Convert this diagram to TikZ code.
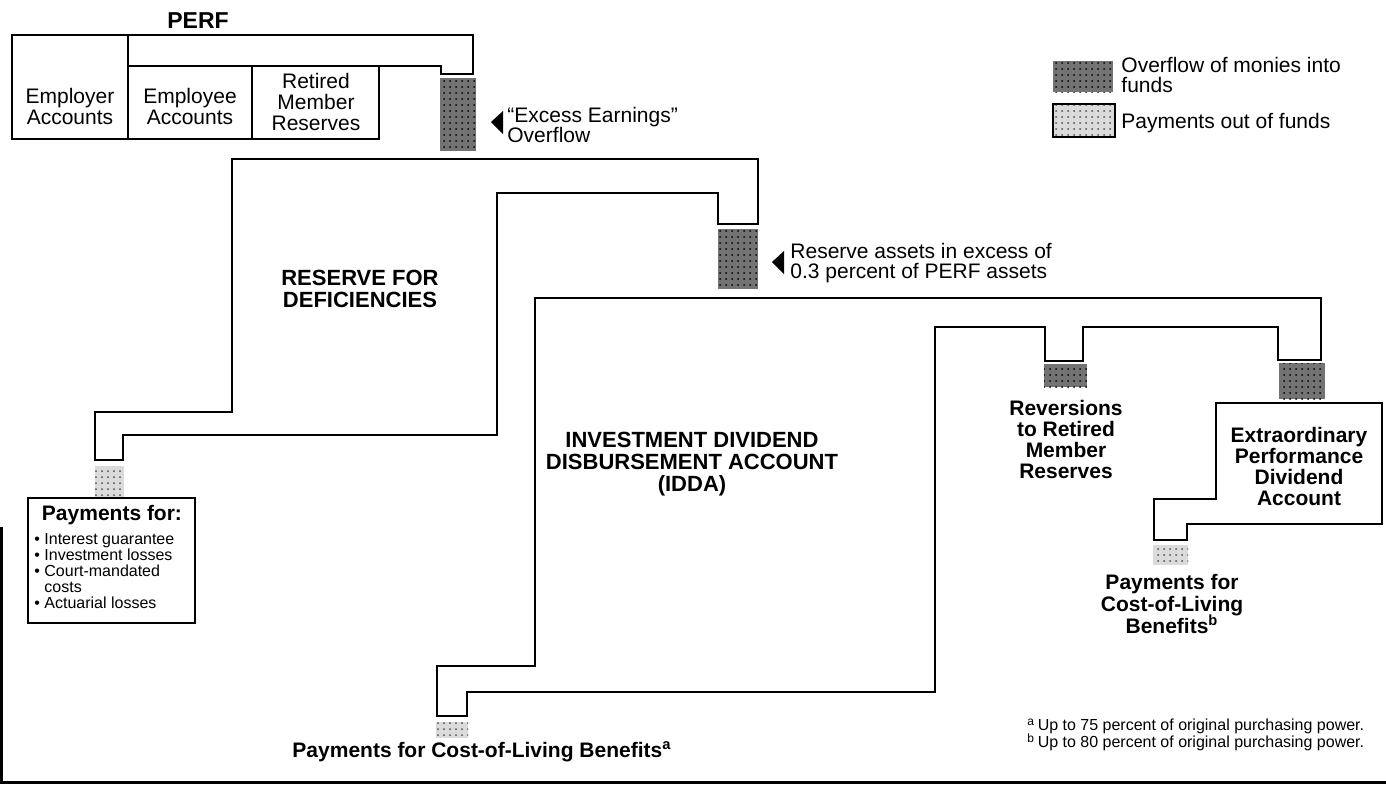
\documentclass[tikz,border=0pt]{standalone}
\usepackage{fontspec}
\setmainfont{Liberation Sans}
\usetikzlibrary{patterns}
\begin{document}
\begin{tikzpicture}[x=0.5pt,y=-0.5pt,
  box/.style={draw, line width=0.9pt},
  lbl/.style={font=\fontsize{10.5}{10.3}\selectfont, align=center, inner sep=0pt},
  blbl/.style={font=\fontsize{10.5}{10.5}\selectfont\bfseries, align=center, inner sep=0pt},
  caplbl/.style={font=\fontsize{11}{11}\selectfont\bfseries, align=center, inner sep=0pt},
  darkfill/.style={fill=black!55, postaction={pattern=dots, pattern color=black}},
  lightfill/.style={fill=black!14, postaction={pattern=dots, pattern color=black!70}},
  tri/.style={fill=black}
]
\useasboundingbox (0,0) rectangle (1386,789);
\fill[white] (0,0) rectangle (1386,789);

% PERF block
\node[caplbl, font=\fontsize{11.5}{11}\selectfont\bfseries] (perf) at (198,21) {PERF};
\draw[box] (12,35) rectangle (128,139);
\draw[box] (128,66) rectangle (252,139);
\draw[box] (252,66) rectangle (379,139);
\draw[box] (128,35) -- (473,35) -- (473,74) -- (441,74) -- (441,66) -- (128,66);
\node[lbl] (employer) at (70,106.5) {Employer\\Accounts};
\node[lbl] (employee) at (190,106.5) {Employee\\Accounts};
\node[lbl] (retired) at (316,102) {Retired\\Member\\Reserves};

% overflow 1
\fill[darkfill] (440,78) rectangle (476,151);
\fill[tri] (491,122) -- (503,111) -- (503,134) -- cycle;
\node[lbl, align=left, anchor=west] (excess) at (507,125) {“Excess Earnings”\\Overflow};

% Reserve for deficiencies
\draw[box] (232,159) -- (758,159) -- (758,224) -- (718,224) -- (718,193) -- (497,193)
  -- (497,435) -- (123,435) -- (123,460) -- (95,460) -- (95,412) -- (232,412) -- cycle;
\node[caplbl] (reserve) at (360,289) {RESERVE FOR\\DEFICIENCIES};

% overflow 2
\fill[darkfill] (718,229) rectangle (758,289);
\fill[tri] (772,262) -- (784,251) -- (784,274) -- cycle;
\node[lbl, align=left, anchor=west] (resassets) at (790,263) {Reserve assets in excess of\\0.3 percent of PERF assets};

% payments for (left)
\fill[lightfill] (95,466) rectangle (124,497);
\draw[box] (28,498) rectangle (195,623);
\node[blbl] (payfor) at (112,515.5) {Payments for:};
\node[font=\fontsize{8}{7.9}\selectfont, align=left, inner sep=0pt, anchor=west] (paylist) at (34,571)
  {\textbullet\ Interest guarantee\\\textbullet\ Investment losses\\\textbullet\ Court-mandated\\\phantom{\textbullet\ }costs\\\textbullet\ Actuarial losses};

% IDDA
\draw[box] (535,298) -- (1321,298) -- (1321,360) -- (1278,360) -- (1278,327) -- (1083,327)
  -- (1083,361) -- (1045,361) -- (1045,327) -- (935,327) -- (935,692) -- (467,692)
  -- (467,716) -- (437,716) -- (437,666) -- (535,666) -- cycle;
\node[caplbl] (idda) at (692,464) {INVESTMENT DIVIDEND\\DISBURSEMENT ACCOUNT\\(IDDA)};
\fill[lightfill] (436,722) rectangle (468,738);
\node[blbl] (colaa) at (482,752) {Payments for Cost-of-Living Benefits\smash{\textsuperscript{a}}};

% reversions
\fill[darkfill] (1044,364) rectangle (1087,387);
\node[blbl] (reversions) at (1066,439) {Reversions\\to Retired\\Member\\Reserves};

% EPDA
\fill[darkfill] (1279,363) rectangle (1325,399);
\draw[box] (1216,403) -- (1382,403) -- (1382,524) -- (1187,524) -- (1187,540) -- (1154,540)
  -- (1154,499) -- (1216,499) -- cycle;
\node[blbl] (epda) at (1299,466.5) {Extraordinary\\Performance\\Dividend\\Account};
\fill[lightfill] (1153,545) rectangle (1188,565);
\node[blbl, font=\fontsize{10.5}{10.8}\selectfont\bfseries] (colab) at (1172,604) {Payments for\\Cost-of-Living\\Benefits\smash{\textsuperscript{b}}};

% legend
\fill[darkfill] (1053,61) rectangle (1113,92);
\fill[lightfill] (1053,104) rectangle (1115,137);
\draw[line width=0.9pt] (1053,104) rectangle (1115,137);
\node[lbl, align=left, anchor=west, font=\fontsize{10.5}{10}\selectfont] (leg1) at (1121,74.5) {Overflow of monies into\\funds};
\node[lbl, align=left, anchor=west] (leg2) at (1121,123.5) {Payments out of funds};

% footnotes
\node[font=\fontsize{8}{8.5}\selectfont, align=left, inner sep=0pt, anchor=west] (fn) at (1027,735)
  {\smash{\textsuperscript{a}}\,Up to 75 percent of original purchasing power.\\\smash{\textsuperscript{b}}\,Up to 80 percent of original purchasing power.};

% frame lines
\draw[line width=1.5pt] (0,782) -- (1386,782);
\draw[line width=1.5pt] (1.5,527) -- (1.5,782);
\end{tikzpicture}
\end{document}
